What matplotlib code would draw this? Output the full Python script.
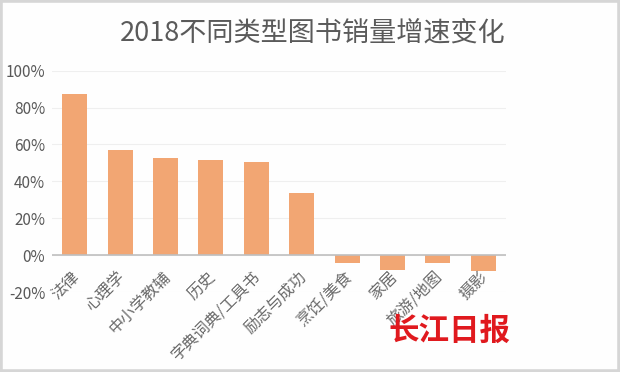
import matplotlib.pyplot as plt
from matplotlib.patches import Rectangle
from matplotlib.ticker import FuncFormatter

plt.rcParams['font.family'] = ['Noto Sans CJK SC', 'DejaVu Sans']

categories = ['法律', '心理学', '中小学教辅', '历史', '字典词典/工具书',
              '励志与成功', '烹饪/美食', '家居', '旅游/地图', '摄影']
growth = [0.873, 0.569, 0.529, 0.516, 0.504, 0.337, -0.045, -0.079, -0.041, -0.085]
yticks = [-0.2, 0, 0.2, 0.4, 0.6, 0.8, 1.0]

fig = plt.figure(figsize=(6.2, 3.72), dpi=100)
fig.patch.set_facecolor('#FEFEFE')
fig.patches.append(Rectangle((0, 0), 1, 1, transform=fig.transFigure,
                             fill=False, edgecolor='#D6D6D6', linewidth=4))

ax = fig.add_axes([0.084, 0.215, 0.732, 0.595])
ax.set_facecolor('#FEFEFE')
ax.bar(range(len(categories)), growth, width=0.55, color='#F2A673', zorder=3)

ax.set_xlim(-0.5, len(categories) - 0.5)
ax.set_ylim(-0.2, 1.0)
ax.set_yticks(yticks)
ax.yaxis.set_major_formatter(FuncFormatter(lambda v, p: f'{v*100:.0f}%'))
ax.grid(axis='y', color='#EFEFEF', linewidth=0.8, zorder=0)
ax.axhline(0, color='#BFBFBF', linewidth=1.2, zorder=4)
for s in ax.spines.values():
    s.set_visible(False)
ax.tick_params(length=0, colors='#595959', labelsize=11)
ax.tick_params(axis='y', pad=5)
ax.set_xticks([])

# category labels sit just under the lowest bar, like excel does
for i, name in enumerate(categories):
    ax.text(i - 0.08, -0.07, name, rotation=45, ha='right', va='top',
            rotation_mode='anchor', fontsize=11.5, color='#6A6A6A', zorder=5)

fig.text(0.505, 0.91, '2018不同类型图书销量增速变化', ha='center', va='center',
         fontsize=19.5, color='#5A5A5A')

# watermark
fig.text(0.725, 0.11, '长江日报', ha='center', va='center', fontsize=22,
         color='#E0191E', fontweight='bold', style='italic')

fig.savefig('out.png', dpi=100, facecolor=fig.get_facecolor())
